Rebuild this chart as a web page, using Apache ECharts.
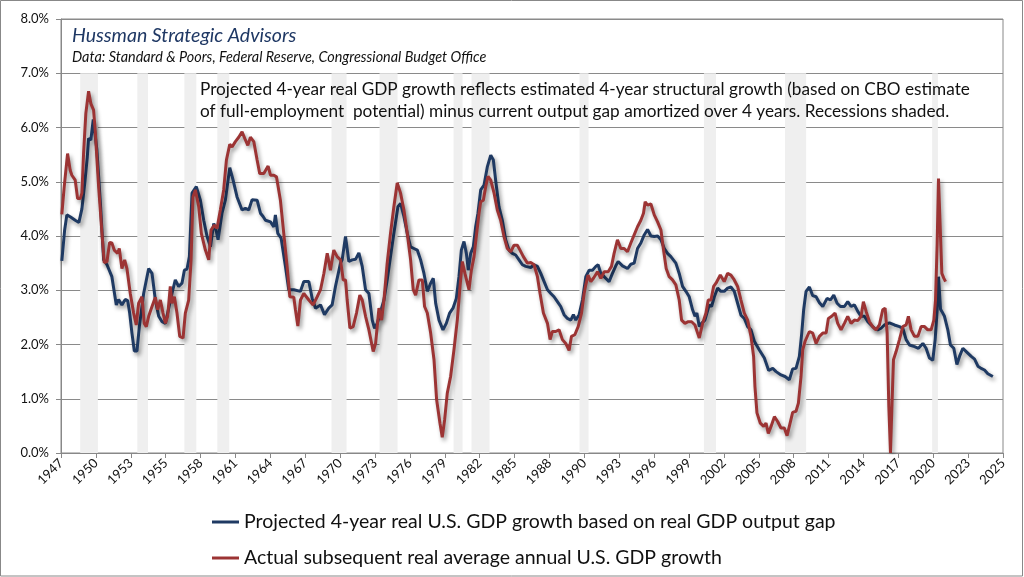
<!DOCTYPE html>
<html><head><meta charset="utf-8">
<script src="https://cdn.jsdelivr.net/npm/echarts@6/dist/echarts.min.js"></script>
<style>html,body{margin:0;padding:0;background:#fff}#c{width:1024px;height:577px}</style>
</head><body><div id="c"></div>
<script>
const xTickLabels = ['1947','1950','1953','1955','1958','1961','1964','1967','1970','1973','1976','1979','1982','1985','1988','1990','1993','1996','1999','2002','2005','2008','2011','2014','2017','2020','2023','2025'];

const blueYears = [1947.07,1947.30,1947.49,1947.80,1948.19,1948.50,1948.75,1949.00,1949.20,1949.31,1949.50,1949.70,1949.80,1950.00,1950.30,1950.57,1950.85,1951.26,1951.63,1951.82,1952.10,1952.38,1952.58,1952.75,1952.94,1953.14,1953.36,1953.56,1953.92,1954.34,1954.62,1954.90,1955.18,1955.46,1955.74,1956.29,1956.57,1956.85,1957.13,1957.33,1957.55,1957.75,1957.97,1958.33,1958.67,1958.95,1959.23,1959.51,1959.79,1959.98,1960.15,1960.48,1960.76,1961.13,1961.41,1961.74,1962.16,1962.44,1962.72,1963.00,1963.42,1963.70,1963.92,1964.12,1964.54,1964.82,1964.95,1965.15,1965.43,1965.79,1966.07,1966.49,1967.05,1967.33,1967.75,1968.03,1968.31,1968.73,1969.06,1969.42,1969.70,1969.98,1970.40,1970.54,1970.82,1971.10,1971.38,1971.66,1971.94,1972.22,1972.50,1972.78,1973.06,1973.25,1973.48,1973.76,1974.04,1974.31,1974.59,1974.87,1975.21,1975.43,1975.71,1975.99,1976.27,1976.55,1976.83,1977.11,1977.39,1977.67,1977.95,1978.17,1978.37,1978.65,1978.98,1979.26,1979.54,1979.82,1980.10,1980.32,1980.52,1980.74,1980.94,1981.10,1981.30,1981.52,1981.72,1981.91,1982.14,1982.42,1982.70,1982.98,1983.20,1983.39,1983.67,1983.95,1984.23,1984.51,1984.79,1985.07,1985.35,1985.63,1985.91,1986.33,1986.61,1986.89,1987.17,1987.45,1987.73,1988.01,1988.28,1988.56,1988.84,1989.12,1989.40,1989.68,1989.90,1990.10,1990.38,1990.66,1990.94,1991.22,1991.50,1991.78,1991.97,1992.20,1992.48,1992.89,1993.17,1993.45,1993.65,1994.01,1994.43,1994.71,1994.99,1995.27,1995.55,1995.83,1996.11,1996.39,1996.67,1996.95,1997.23,1997.51,1997.78,1998.06,1998.48,1998.76,1999.04,1999.32,1999.60,1999.88,2000.08,2000.24,2000.44,2000.63,2000.91,2001.28,2001.47,2001.70,2001.98,2002.25,2002.53,2002.81,2003.09,2003.37,2003.65,2003.93,2004.21,2004.49,2004.77,2005.05,2005.47,2005.89,2006.25,2006.59,2006.87,2007.28,2007.62,2007.98,2008.26,2008.54,2008.82,2009.02,2009.18,2009.38,2009.66,2009.94,2010.22,2010.50,2010.78,2011.14,2011.42,2011.70,2011.98,2012.26,2012.59,2012.87,2013.15,2013.43,2013.71,2013.99,2014.27,2014.55,2014.82,2015.10,2015.38,2015.66,2015.94,2016.36,2016.78,2017.20,2017.48,2017.76,2018.04,2018.46,2018.79,2019.16,2019.43,2019.71,2019.99,2020.19,2020.36,2020.47,2020.64,2020.75,2020.97,2021.25,2021.47,2021.75,2022.01,2022.23,2022.51,2022.79,2023.21,2023.49,2023.77,2024.04,2024.32,2024.60,2025.02];
const blueValues = [3.54,4.10,4.39,4.35,4.29,4.25,4.50,5.00,5.45,5.80,5.77,6.15,6.18,5.60,4.60,3.56,3.47,3.25,2.73,2.83,2.73,2.83,2.81,2.58,2.21,1.88,1.88,2.33,2.94,3.40,3.31,2.82,2.52,2.42,2.39,2.94,3.19,3.07,3.13,3.37,3.39,3.62,4.79,4.91,4.66,4.29,3.99,3.80,4.23,4.11,3.93,4.42,4.66,5.26,5.03,4.72,4.48,4.51,4.48,4.67,4.66,4.42,4.36,4.29,4.26,4.17,4.39,4.05,3.96,3.44,3.01,3.01,2.98,3.16,3.16,2.85,2.67,2.73,2.55,2.67,2.73,3.07,3.50,3.56,3.99,3.53,3.56,3.57,3.69,3.44,3.01,2.94,2.45,2.30,2.39,2.61,2.82,3.19,3.62,4.05,4.54,4.60,4.36,4.05,3.80,3.77,3.74,3.56,3.31,2.98,3.13,3.22,2.76,2.45,2.27,2.39,2.58,2.67,2.85,3.25,3.74,3.90,3.68,3.37,3.68,3.80,4.17,4.42,4.85,4.94,5.28,5.49,5.40,5.03,4.54,4.29,3.93,3.74,3.68,3.65,3.56,3.47,3.44,3.42,3.47,3.44,3.31,3.16,3.01,2.94,2.88,2.79,2.70,2.55,2.48,2.45,2.55,2.45,2.55,2.82,3.25,3.37,3.37,3.44,3.47,3.31,3.25,3.16,3.31,3.45,3.53,3.45,3.40,3.48,3.50,3.77,3.87,4.02,4.12,4.00,3.99,4.00,3.93,3.77,3.68,3.62,3.50,3.31,3.07,2.98,2.88,2.64,2.52,2.58,2.33,2.39,2.45,2.73,2.70,2.88,3.04,2.98,2.98,3.04,3.06,2.98,2.76,2.54,2.48,2.33,2.27,2.06,1.90,1.75,1.52,1.56,1.50,1.44,1.41,1.35,1.55,1.56,1.78,2.21,2.64,2.98,3.06,2.90,2.88,2.77,2.70,2.85,2.82,2.91,2.76,2.70,2.70,2.79,2.70,2.73,2.61,2.52,2.52,2.42,2.36,2.30,2.27,2.30,2.36,2.40,2.36,2.33,2.30,2.09,1.99,1.96,1.93,2.02,1.93,1.75,1.71,2.09,2.64,3.25,2.65,2.61,2.52,2.27,1.99,1.93,1.63,1.78,1.93,1.87,1.78,1.73,1.60,1.56,1.53,1.46,1.41];

const redYears = [1947.07,1947.27,1947.55,1947.77,1947.91,1948.19,1948.39,1948.61,1948.75,1948.89,1949.08,1949.31,1949.50,1949.73,1949.87,1950.15,1950.43,1950.62,1950.85,1951.07,1951.26,1951.46,1951.74,1951.88,1952.10,1952.33,1952.52,1952.80,1953.08,1953.30,1953.50,1953.78,1953.97,1954.14,1954.34,1954.62,1954.90,1955.09,1955.32,1955.54,1955.74,1955.93,1956.15,1956.29,1956.49,1956.71,1956.94,1957.22,1957.41,1957.69,1957.89,1958.05,1958.25,1958.53,1958.75,1959.09,1959.37,1959.56,1959.84,1960.06,1960.34,1960.62,1960.85,1961.13,1961.32,1961.60,1961.88,1962.16,1962.44,1962.64,1962.86,1963.14,1963.42,1963.64,1963.98,1964.34,1964.54,1964.82,1965.04,1965.37,1965.65,1965.93,1966.16,1966.49,1966.63,1966.83,1967.05,1967.33,1967.75,1968.11,1968.45,1968.73,1969.01,1969.29,1969.56,1969.84,1970.12,1970.40,1970.63,1970.82,1970.96,1971.19,1971.46,1971.74,1972.02,1972.22,1972.50,1972.78,1973.14,1973.34,1973.62,1973.84,1974.04,1974.31,1974.59,1974.87,1975.15,1975.43,1975.71,1975.99,1976.27,1976.49,1976.69,1976.97,1977.25,1977.44,1977.67,1977.95,1978.23,1978.45,1978.73,1978.92,1979.12,1979.34,1979.62,1979.90,1980.18,1980.41,1980.60,1980.82,1981.02,1981.16,1981.36,1981.58,1981.80,1982.00,1982.14,1982.36,1982.56,1982.75,1982.98,1983.26,1983.53,1983.81,1984.09,1984.37,1984.65,1984.93,1985.21,1985.43,1985.71,1986.05,1986.33,1986.61,1986.89,1987.11,1987.39,1987.73,1987.95,1988.14,1988.42,1988.70,1988.98,1989.26,1989.54,1989.74,1990.02,1990.30,1990.58,1990.80,1990.94,1991.13,1991.36,1991.58,1991.92,1992.20,1992.48,1992.81,1993.09,1993.31,1993.59,1993.87,1994.15,1994.43,1994.71,1994.99,1995.27,1995.55,1995.77,1995.91,1996.11,1996.39,1996.67,1996.95,1997.23,1997.45,1997.67,1997.92,1998.20,1998.48,1998.76,1998.96,1999.24,1999.52,1999.80,2000.08,2000.30,2000.44,2000.72,2001.00,2001.19,2001.42,2001.64,2001.84,2002.20,2002.53,2002.81,2003.09,2003.37,2003.65,2003.93,2004.21,2004.49,2004.77,2004.99,2005.10,2005.27,2005.55,2005.83,2006.03,2006.22,2006.45,2006.73,2007.00,2007.28,2007.56,2007.79,2007.98,2008.26,2008.54,2008.74,2008.96,2009.10,2009.30,2009.66,2009.94,2010.22,2010.50,2010.78,2011.06,2011.25,2011.53,2011.81,2012.03,2012.31,2012.59,2012.87,2013.15,2013.43,2013.71,2013.99,2014.18,2014.41,2014.69,2014.96,2015.24,2015.52,2015.80,2016.00,2016.17,2016.31,2016.45,2016.56,2016.70,2016.92,2017.20,2017.48,2017.76,2017.95,2018.18,2018.46,2018.74,2019.02,2019.30,2019.57,2019.85,2020.08,2020.22,2020.36,2020.47,2020.61,2020.75,2020.92,2021.06];
const redValues = [4.40,4.91,5.52,5.21,5.12,5.03,4.69,4.69,4.79,5.52,6.26,6.67,6.44,6.32,5.92,4.91,4.05,3.51,3.53,3.88,3.87,3.74,3.68,3.77,3.40,3.56,3.40,2.94,2.58,2.36,2.76,2.88,2.39,2.33,2.52,2.70,2.87,2.64,2.82,2.58,2.39,2.52,3.07,2.76,2.88,2.58,2.15,2.12,2.58,2.82,3.56,4.72,4.85,4.54,4.05,3.74,3.56,4.11,4.20,4.14,4.48,4.85,5.40,5.69,5.64,5.74,5.82,5.92,5.77,5.67,5.82,5.74,5.40,5.15,5.15,5.29,5.12,5.12,5.09,4.66,4.05,3.44,2.88,2.87,2.64,2.34,2.82,2.94,2.82,2.73,2.88,3.01,3.31,3.68,3.37,3.74,3.62,3.56,3.19,3.19,2.82,2.30,2.33,2.58,2.91,2.82,2.52,2.27,1.87,2.02,2.67,2.45,2.82,3.50,4.05,4.54,4.98,4.79,4.48,4.05,3.56,3.01,2.91,3.19,3.19,2.70,2.58,2.21,1.72,0.98,0.55,0.29,0.61,1.10,1.41,1.90,2.45,3.07,3.53,3.31,3.13,3.01,3.37,3.62,4.05,4.42,4.63,4.66,4.91,5.10,5.03,4.79,4.48,4.29,3.99,3.77,3.71,3.83,3.83,3.74,3.62,3.50,3.51,3.47,3.25,2.94,2.58,2.39,2.09,2.24,2.24,2.27,2.09,2.02,1.89,2.15,2.18,2.33,2.58,2.94,3.10,3.28,3.16,3.22,3.34,3.22,3.34,3.34,3.44,3.68,3.93,3.77,3.77,3.71,3.87,4.02,4.17,4.29,4.42,4.63,4.57,4.59,4.39,4.26,4.11,3.74,3.40,3.25,3.19,3.10,2.82,2.45,2.39,2.42,2.42,2.36,2.21,2.12,2.39,2.58,2.82,2.82,3.07,3.13,3.28,3.16,3.31,3.28,3.19,3.07,2.82,2.58,2.45,2.15,1.78,1.23,0.74,0.55,0.49,0.55,0.36,0.49,0.67,0.58,0.46,0.46,0.32,0.49,0.75,0.77,0.92,1.41,1.90,2.06,2.24,2.21,2.02,2.15,2.21,2.21,2.48,2.52,2.58,2.39,2.27,2.39,2.52,2.39,2.45,2.44,2.52,2.79,2.61,2.42,2.33,2.27,2.36,2.64,2.67,2.21,0.86,0.00,0.80,1.72,1.87,2.09,2.33,2.36,2.52,2.27,2.15,2.15,2.33,2.33,2.27,2.27,2.45,2.82,3.87,5.06,4.17,3.31,3.22,3.16];

const recessionStarts = [1948.61,1953.39,1957.33,1960.09,1969.65,1973.67,1979.87,1981.37,1990.41,2000.83,2007.62,2019.94];
const recessionEnds   = [1950.09,1954.28,1958.33,1961.09,1970.91,1975.18,1980.62,1982.88,1991.17,2001.84,2009.39,2020.42];
const recessionTop = 7.0;

const seriesNames = ['Projected 4-year real U.S. GDP growth based on real GDP output gap','Actual subsequent real average annual U.S. GDP growth'];
const titleText = 'Hussman Strategic Advisors';
const sourceText = 'Data: Standard & Poors, Federal Reserve, Congressional Budget Office';
const noteLines = ['Projected 4-year real GDP growth reflects estimated 4-year structural growth (based on CBO estimate','of full-employment  potential) minus current output gap amortized over 4 years. Recessions shaded.'];

const X0 = 1947;
const X_SPAN = 78.87;
const STEP = X_SPAN / 27;

const toPairs = (xs, vs) => xs.map((x, i) => [x - X0, vs[i]]);
const FONT = 'Lato, "Open Sans", sans-serif';

const chart = echarts.init(document.getElementById('c'), null, {renderer: 'canvas'});
const shadow = {shadowColor: 'rgba(0,0,0,0.4)', shadowBlur: 4, shadowOffsetX: 2, shadowOffsetY: 3};

chart.setOption({
  animation: false,
  backgroundColor: '#fff',
  textStyle: {fontFamily: FONT},
  grid: {left: 61, right: 21, top: 19, bottom: 124, show: true, borderColor: '#888', borderWidth: 1, outerBoundsMode: 'none'},
  legend: {
    data: seriesNames, orient: 'vertical', left: 207, top: 507,
    icon: 'rect', itemWidth: 27, itemHeight: 3, itemGap: 16,
    textStyle: {fontSize: 19.5, color: '#111', fontFamily: FONT},
    selectedMode: false
  },
  xAxis: {
    type: 'value', min: 0, max: X_SPAN + 1e-6, interval: STEP,
    axisLine: {show: true, lineStyle: {color: '#888'}},
    axisTick: {show: true, length: 5, lineStyle: {color: '#888'}},
    splitLine: {show: false},
    axisLabel: {
      rotate: 45, margin: 8, fontSize: 13, color: '#111', fontFamily: FONT,
      formatter: v => xTickLabels[Math.round(v / STEP)] || ''
    }
  },
  yAxis: {
    type: 'value', min: 0, max: 8, interval: 1,
    axisLine: {show: true, lineStyle: {color: '#888'}},
    axisTick: {show: true, length: 5, lineStyle: {color: '#888'}},
    splitLine: {show: true, lineStyle: {color: '#8a8a8a', width: 1}},
    axisLabel: {margin: 12, fontSize: 13, color: '#111', fontFamily: FONT, formatter: v => v.toFixed(1) + '%'}
  },
  series: [
    {
      type: 'line', name: 'recessions', data: [], z: 1, silent: true,
      markArea: {
        silent: true, itemStyle: {color: '#efefef'},
        data: recessionStarts.map((s, i) => [{xAxis: s - X0, yAxis: 0}, {xAxis: recessionEnds[i] - X0, yAxis: recessionTop}])
      }
    },
    {
      type: 'line', name: seriesNames[0], data: toPairs(blueYears, blueValues), z: 3,
      showSymbol: false, symbol: 'none', color: '#1f3a63',
      lineStyle: Object.assign({width: 3, color: '#1f3a63'}, shadow)
    },
    {
      type: 'line', name: seriesNames[1], data: toPairs(redYears, redValues), z: 4,
      showSymbol: false, symbol: 'none', color: '#9c3434',
      lineStyle: Object.assign({width: 3, color: '#9c3434'}, shadow)
    }
  ],
  graphic: [
    {type: 'rect', silent: true, z: 100, shape: {x: 0.5, y: 0.5, width: 1022, height: 575.5}, style: {fill: 'none', stroke: '#888', lineWidth: 1}},
    {type: 'text', left: 72, top: 26, z: 50, style: {text: titleText, fontSize: 19.5, fontStyle: 'italic', fontFamily: FONT, fill: '#1f3864'}},
    {type: 'text', left: 72, top: 50, z: 50, style: {text: sourceText, fontSize: 14.4, fontStyle: 'italic', fontFamily: FONT, fill: '#111'}},
    {type: 'text', left: 200, top: 81, z: 50, style: {text: noteLines[0], fontSize: 17.2, fontFamily: FONT, fill: '#111'}},
    {type: 'text', left: 200, top: 103, z: 50, style: {text: noteLines[1], fontSize: 17.2, fontFamily: FONT, fill: '#111'}}
  ]
});
</script>
</body></html>
